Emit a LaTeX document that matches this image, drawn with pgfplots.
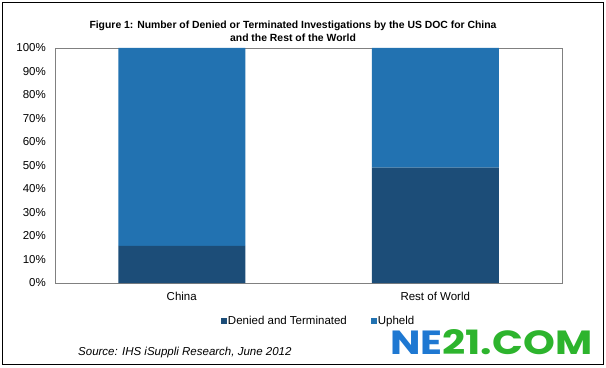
\documentclass[border=0pt]{standalone}
\usepackage{fontspec}
\setmainfont{Liberation Sans}
\newfontfamily\logofont{Poppins}
\usepackage{graphicx}
\usepackage{pgfplots}
\pgfplotsset{compat=1.18}
\definecolor{darkbar}{RGB}{28,77,120}
\definecolor{lightbar}{RGB}{34,114,177}
\definecolor{logoblue}{RGB}{30,120,210}
\definecolor{logogreen}{RGB}{45,180,45}
\begin{document}
\begin{tikzpicture}[x=1bp,y=1bp]
\useasboundingbox (0,0) rectangle (606,367);
\draw[line width=1.2bp] (2.5,2.5) rectangle (603.5,364.5);
\node[align=center, font=\fontsize{10.4bp}{13bp}\selectfont\bfseries] at (293,335.5)
  {Figure 1: Number of Denied or Terminated Investigations by the US DOC for China\\and the Rest of the World};
\begin{axis}[at={(55bp,84bp)}, anchor=south west, scale only axis,
  width=507bp, height=235bp,
  ybar stacked, bar width=127bp,
  xmin=-0.5, xmax=1.5, ymin=0, ymax=100,
  xtick={0,1}, xticklabels={China,Rest of World},
  ytick={0,10,20,30,40,50,60,70,80,90,100},
  yticklabels={0\%,10\%,20\%,30\%,40\%,50\%,60\%,70\%,80\%,90\%,100\%},
  major tick length=0pt,
  axis line style={gray},
  tick label style={font=\fontsize{11.5bp}{13bp}\selectfont, inner sep=0pt},
  yticklabel style={anchor=east, xshift=-9bp},
  xticklabel style={anchor=north, yshift=-9bp},
  legend style={at={(0.327,-0.162)}, anchor=west, draw=none, fill=none,
    inner sep=0pt, font=\fontsize{11.5bp}{13bp}\selectfont,
    nodes={inner sep=1bp}, /tikz/every even column/.append style={column sep=23bp}},
  legend columns=2,
  legend image code/.code={\fill[#1] (0bp,-3bp) rectangle (6bp,3bp);},
]
\addplot[fill=darkbar, draw=none] coordinates {(0,15.8) (1,49.1)};
\addlegendentry{Denied and Terminated}
\addplot[fill=lightbar, draw=none] coordinates {(0,84.2) (1,50.9)};
\addlegendentry{Upheld}
\end{axis}
\node[anchor=west, inner sep=0pt, font=\fontsize{11.5bp}{13bp}\selectfont\itshape] at (78,14)
  {Source: IHS iSuppli Research, June 2012};
\node[anchor=south west, inner sep=0pt] at (390,12)
  {\resizebox{202bp}{25bp}{\logofont\bfseries\textcolor{logoblue}{NE}\textcolor{logogreen}{21.COM}}};
\end{tikzpicture}
\end{document}
